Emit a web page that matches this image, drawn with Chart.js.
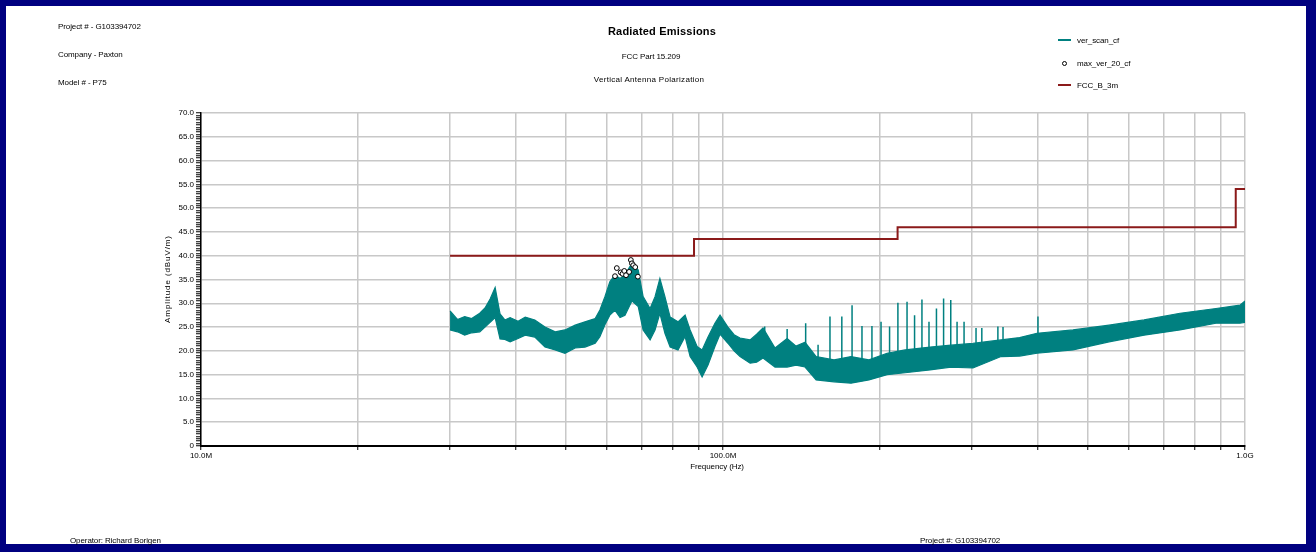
<!DOCTYPE html>
<html>
<head>
<meta charset="utf-8">
<script src="https://cdn.jsdelivr.net/npm/chart.js@4"></script>
<style>
  body { margin: 0; width: 1316px; height: 552px; overflow: hidden; background: #fff; font-family: "Liberation Sans", Arial, sans-serif; }
  #frame { position: absolute; left: 0; top: 0; width: 1316px; height: 552px; box-sizing: border-box;
           border-style: solid; border-color: #000080; border-width: 6px 10px 8px 6px; pointer-events: none; }
  #wrap { position: absolute; left: 0; top: 0; width: 1316px; height: 552px; }
  .t { position: absolute; font-size: 8px; letter-spacing: -0.1px; color: #000; white-space: nowrap; line-height: 10px; }
  .c { transform: translateX(-50%); }
</style>
</head>
<body>
<div id="wrap"><canvas id="chart"></canvas></div>
<div id="frame"></div>

<div class="t" style="left:58px; top:22px;">Project # - G103394702</div>
<div class="t" style="left:58px; top:50px;">Company - Paxton</div>
<div class="t" style="left:58px; top:78px;">Model # - P75</div>

<div class="t c" style="left:662px; top:24px; font-size:11px; font-weight:bold; letter-spacing:0.2px; line-height:14px;">Radiated Emissions</div>
<div class="t c" style="left:651px; top:52px;">FCC Part 15.209</div>
<div class="t c" style="left:649px; top:75px; letter-spacing:0.3px;">Vertical Antenna Polarization</div>

<div id="legend"></div>

<div class="t" style="left:168px; top:279px; transform: translate(-50%, -50%) rotate(-90deg); letter-spacing:0.9px;">Amplitude (dBuV/m)</div>
<div class="t c" style="left:717px; top:462px;">Frequency (Hz)</div>

<div class="t" style="left:70px; top:536px;">Operator: Richard Borigen</div>
<div class="t" style="left:920px; top:536px;">Project #: G103394702</div>

<script>
// ver_scan_cf envelope (frequency in MHz, amplitude in dBuV/m)
const scanFreq = [30.0, 31.0, 32.0, 33.0, 34.2, 35.0, 35.8, 36.6, 37.4, 38.2, 39.1, 40.5, 41.8, 43.6, 45.6, 47.7,
  49.8, 52.1, 54.4, 56.9, 58.1, 59.4, 60.7, 62.1, 63.5, 64.9, 66.9, 68.8, 70.3, 72.5, 74.1, 75.7, 77.4, 79.2,
  82.0, 84.6, 86.5, 89.2, 91.2, 93.6, 96.5, 98.7, 102.2, 105.0, 107.8, 112.7, 116.0, 119.3, 125.8, 132.7,
  138.0, 143.6, 150.8, 163.2, 175.9, 190.4, 206.2, 223.3, 249.3, 273.4, 301.2, 340.9, 370.0, 399.5, 468.3,
  549, 640.7, 750.8, 879.9, 978.2, 1000];
const scanUpper = [28.4, 26.6, 27.2, 26.8, 27.9, 29.0, 30.9, 33.3, 27.8, 26.5, 27.0, 26.2, 27.1, 26.5, 25.0, 24.0,
  24.4, 25.4, 26.1, 26.8, 28.6, 31.4, 34.5, 36.0, 35.2, 36.0, 38.4, 37.0, 31.4, 28.9, 31.4, 35.2, 31.4, 27.1,
  26.1, 27.5, 24.4, 20.9, 20.2, 22.9, 25.8, 27.5, 25.0, 23.4, 22.7, 22.3, 23.5, 24.8, 20.6, 22.6,
  21.0, 21.8, 18.8, 18.1, 18.8, 18.1, 19.5, 20.2, 20.8, 21.2, 21.6, 22.3, 22.8, 23.7, 24.4,
  25.4, 26.5, 27.9, 28.9, 29.6, 30.5];
const scanLower = [24.4, 24.0, 23.3, 23.8, 24.0, 25.0, 26.0, 27.0, 22.5, 22.4, 21.9, 22.6, 23.3, 22.9, 20.8, 20.2,
  19.5, 20.6, 20.8, 21.6, 23.0, 25.5, 27.5, 28.5, 27.0, 27.5, 30.5, 29.3, 24.4, 22.3, 24.4, 27.9, 23.7, 20.8,
  20.2, 23.0, 18.8, 16.6, 14.5, 17.0, 20.9, 23.5, 21.6, 20.0, 18.8, 17.4, 17.6, 18.5, 16.6, 16.6,
  17.0, 16.6, 13.9, 13.5, 13.2, 13.9, 15.0, 15.4, 16.0, 16.6, 16.4, 18.8, 18.9, 19.5, 20.2,
  21.9, 23.3, 24.4, 25.8, 25.8, 26.0];

// narrow spurs rising above the scan
const spikeFreq = [120.2, 132.7, 144.0, 152.1, 160.3, 168.9, 176.7, 184.6, 192.9, 200.8, 208.5, 216.3, 225.2,
  232.8, 240.5, 248.1, 256.4, 264.6, 273.1, 280.8, 289.6, 305.3, 313.2, 336.2, 343.9, 401.2];
const spikePeak = [25.1, 24.6, 25.8, 21.3, 27.2, 27.2, 29.6, 25.2, 25.2, 26.1, 25.1, 30.1, 30.3,
  27.5, 30.8, 26.1, 28.9, 31.0, 30.7, 26.1, 26.1, 24.8, 24.8, 25.1, 25.0, 27.2];
const spikeBase = [20, 19, 19, 16, 16, 16, 16, 16, 16, 17, 17, 17, 18,
  18, 18, 18, 18, 18, 19, 19, 19, 19, 19, 20, 20, 22];

// max_ver_20_cf peaks
const maxFreq = [62.1, 62.6, 63.7, 64.2, 64.7, 65.2, 66.1, 66.6, 66.9, 67.3, 67.9, 68.7];
const maxAmp = [35.7, 37.4, 36.5, 36.2, 36.8, 35.9, 36.6, 39.1, 38.4, 38.0, 37.6, 35.6];

// FCC_B_3m limit
const limitFreq = [30, 88, 216, 960, 1000];
const limitAmp = [40, 43.5, 46, 54, 54];

// axes
const xGrid = [10, 20, 30, 40, 50, 60, 70, 80, 90, 100, 200, 300, 400, 500, 600, 700, 800, 900, 1000];
const xLabels = { 10: '10.0M', 100: '100.0M', 1000: '1.0G' };
const yLabels = ['0', '5.0', '10.0', '15.0', '20.0', '25.0', '30.0', '35.0', '40.0', '45.0', '50.0', '55.0', '60.0', '65.0', '70.0'];

const teal = '#008080';
const limitRed = '#8b1a1a';

// legend
const legendItems = [
  { label: 'ver_scan_cf', kind: 'line', color: teal },
  { label: 'max_ver_20_cf', kind: 'dot', color: '#000' },
  { label: 'FCC_B_3m', kind: 'line', color: limitRed }
];
const legend = document.getElementById('legend');
legendItems.forEach((it, i) => {
  const top = 36 + i * 22.5;
  const sw = document.createElement('div');
  if (it.kind === 'line') {
    sw.style.cssText = `position:absolute; left:1058px; top:${top + 3}px; width:13px; height:${it.color === teal ? 1.5 : 2}px; background:${it.color};`;
  } else {
    sw.style.cssText = `position:absolute; left:1062px; top:${top + 2}px; width:3px; height:3px; border:1px solid #000; border-radius:50%; background:#fff;`;
  }
  legend.appendChild(sw);
  const tx = document.createElement('div');
  tx.className = 't';
  tx.style.left = '1077px';
  tx.style.top = top + 'px';
  tx.textContent = it.label;
  legend.appendChild(tx);
});

// build datasets
const upperPts = scanFreq.map((f, i) => ({ x: f, y: scanUpper[i] }));
const lowerPts = scanFreq.map((f, i) => ({ x: f, y: scanLower[i] }));
const spikePts = [];
spikeFreq.forEach((f, i) => {
  spikePts.push({ x: f, y: spikeBase[i] }, { x: f, y: spikePeak[i] }, { x: f, y: null });
});
const maxPts = maxFreq.map((f, i) => ({ x: f, y: maxAmp[i] }));
const limitPts = limitFreq.map((f, i) => ({ x: f, y: limitAmp[i] }));

Chart.defaults.font.family = '"Liberation Sans", Arial, sans-serif';
Chart.defaults.font.size = 8;
Chart.defaults.color = '#000';

const ctx = document.getElementById('chart').getContext('2d');
new Chart(ctx, {
  type: 'line',
  data: {
    datasets: [
      { label: 'max_ver_20_cf', data: maxPts, showLine: false, pointRadius: 2.4, pointBorderWidth: 1,
        pointBackgroundColor: '#fff', pointBorderColor: '#000', order: 0 },
      { label: 'FCC_B_3m', data: limitPts, stepped: true, borderColor: limitRed, borderWidth: 2,
        pointRadius: 0, fill: false, order: 1 },
      { label: 'ver_scan_cf', data: upperPts, borderColor: teal, borderWidth: 1.2, pointRadius: 0,
        fill: '+1', backgroundColor: teal, order: 3 },
      { label: 'ver_scan_lo', data: lowerPts, borderColor: teal, borderWidth: 1.2, pointRadius: 0,
        fill: false, order: 4 },
      { label: 'spurs', data: spikePts, borderColor: teal, borderWidth: 1.5, pointRadius: 0,
        spanGaps: false, fill: false, order: 2 }
    ]
  },
  options: {
    responsive: true,
    maintainAspectRatio: false,
    animation: false,
    devicePixelRatio: 1,
    layout: { padding: { top: 113, right: 71, left: 0, bottom: 0 } },
    plugins: { legend: { display: false }, tooltip: { enabled: false }, title: { display: false } },
    scales: {
      x: {
        type: 'logarithmic',
        min: 10, max: 1000,
        afterFit: (s) => { s.height = 106; },
        afterBuildTicks: (s) => { s.ticks = xGrid.map(v => ({ value: v })); },
        ticks: {
          autoSkip: false, maxRotation: 0, padding: 1,
          callback: (v) => xLabels[v] || ''
        },
        grid: { color: '#c8c8c8', lineWidth: 1.5, tickColor: '#000', tickLength: 4, tickWidth: 1 },
        border: { color: '#000', width: 2 }
      },
      y: {
        min: 0, max: 70,
        afterFit: (s) => { s.width = 201; },
        ticks: {
          stepSize: 0.5, autoSkip: false, maxTicksLimit: 200, padding: 2,
          callback: (v) => (v % 5 === 0 ? yLabels[v / 5] : '')
        },
        grid: {
          color: (c) => (c.tick && c.tick.value % 5 === 0 ? '#c8c8c8' : 'rgba(0,0,0,0)'),
          lineWidth: 1.5, tickColor: '#000', tickLength: 5, tickWidth: 1
        },
        border: { color: '#000', width: 1.5 }
      }
    }
  }
});
</script>
</body>
</html>
